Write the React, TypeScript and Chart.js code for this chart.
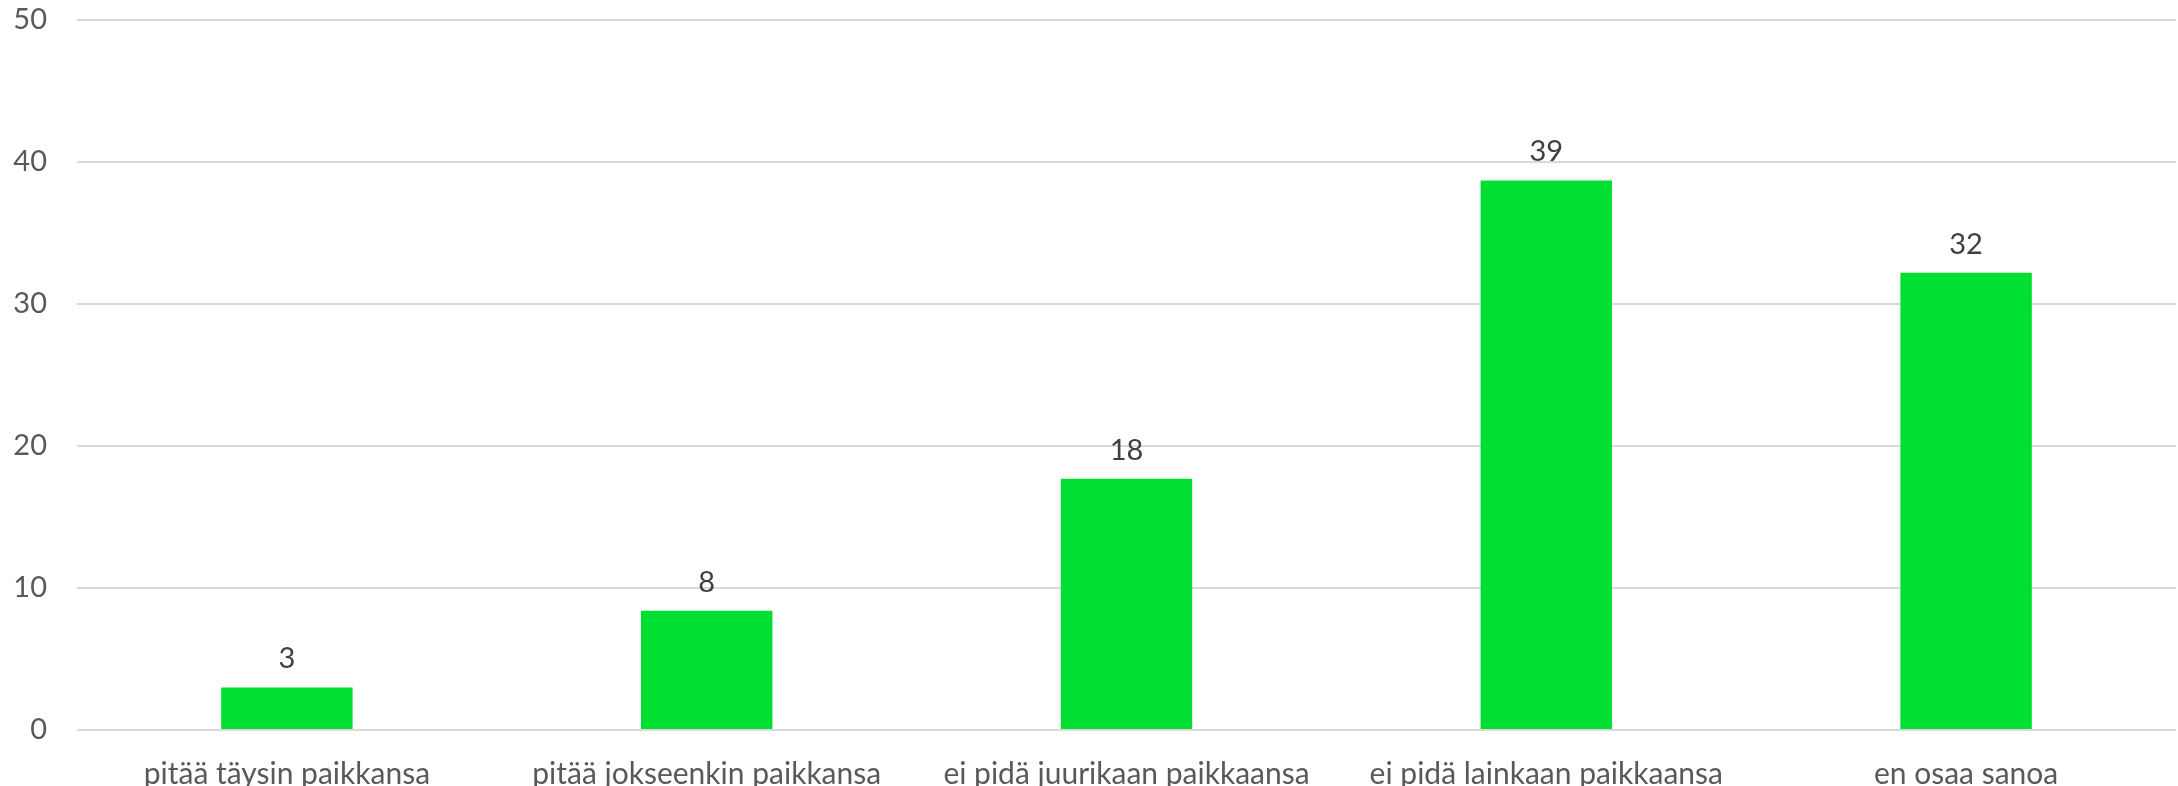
import React, { useEffect, useRef } from "react";
import { Chart, registerables } from "chart.js";

Chart.register(...registerables);

const categories = [
  "pitää täysin paikkansa",
  "pitää jokseenkin paikkansa",
  "ei pidä juurikaan paikkaansa",
  "ei pidä lainkaan paikkaansa",
  "en osaa sanoa",
];
const values = [3.0, 8.4, 17.7, 38.7, 32.2];
const yTicks = [0, 10, 20, 30, 40, 50];

const FONT = "Lato, 'Open Sans', sans-serif";

const dataLabelPlugin = {
  id: "dataLabels",
  afterDatasetsDraw(chart: any) {
    const ctx = chart.ctx;
    const meta = chart.getDatasetMeta(0);
    ctx.save();
    ctx.font = `29px ${FONT}`;
    ctx.fillStyle = "#404040";
    ctx.textAlign = "center";
    ctx.textBaseline = "alphabetic";
    meta.data.forEach((bar: any, i: number) => {
      const v = chart.data.datasets[0].data[i];
      ctx.fillText(String(Math.round(v)), bar.x, bar.y - 19);
    });
    ctx.restore();
  },
};

export default function App() {
  const ref = useRef<HTMLCanvasElement | null>(null);
  useEffect(() => {
    document.body.style.margin = "0";
    if (!ref.current) return;
    const chart = new Chart(ref.current, {
      type: "bar",
      data: {
        labels: categories,
        datasets: [
          {
            data: values,
            backgroundColor: "#00DF32",
            borderWidth: 0,
            categoryPercentage: 1,
            barPercentage: 0.313,
          },
        ],
      },
      options: {
        animation: false,
        responsive: false,
        maintainAspectRatio: false,
        layout: { padding: { top: 0, right: 2, left: 0, bottom: 0 } },
        plugins: {
          legend: { display: false },
          tooltip: { enabled: false },
        },
        scales: {
          x: {
            grid: { display: false, drawTicks: false },
            border: { display: false },
            ticks: {
              color: "#595959",
              font: { family: FONT, size: 30 },
              padding: 26,
              maxRotation: 0,
              autoSkip: false,
            },
            afterFit: (scale: any) => {
              scale.height = 56;
            },
          },
          y: {
            min: 0,
            max: 50,
            afterBuildTicks: (scale: any) => {
              scale.ticks = yTicks.map((v) => ({ value: v }));
            },
            grid: { color: "#d9d9d9", lineWidth: 2, drawTicks: false },
            border: { display: false },
            ticks: {
              color: "#595959",
              font: { family: FONT, size: 29 },
              padding: 30,
            },
            afterFit: (scale: any) => {
              scale.width = 77;
              scale.paddingTop = 20;
              scale.paddingBottom = 0;
            },
          },
        },
      },
      plugins: [dataLabelPlugin],
    });
    return () => chart.destroy();
  }, []);
  return (
    <div style={{ width: 2178, height: 786, background: "#fff" }}>
      <canvas ref={ref} width={2178} height={786} style={{ display: "block" }} />
    </div>
  );
}
